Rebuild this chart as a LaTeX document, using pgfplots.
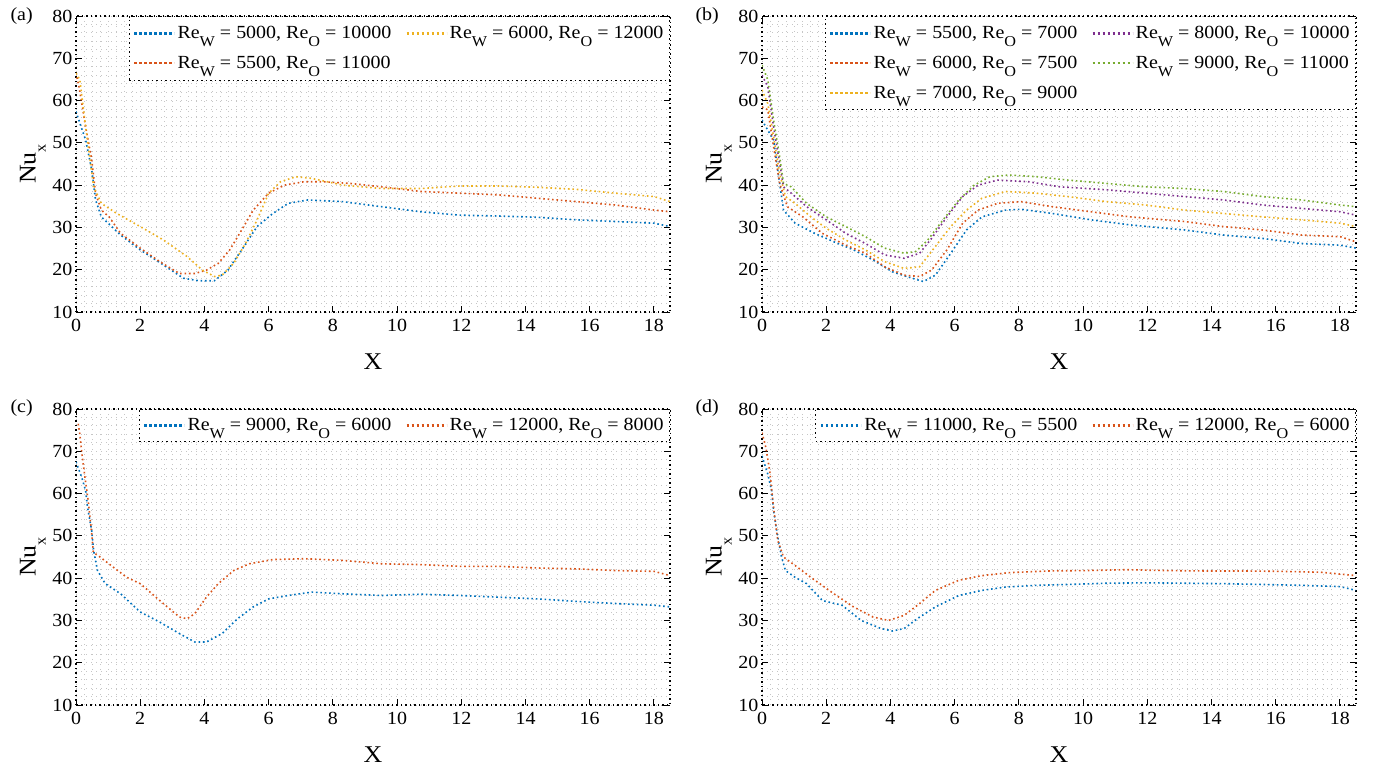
\documentclass[border=0pt]{standalone}
\usepackage{pgfplots}
\pgfplotsset{compat=1.18}
\usepackage{fontspec}
\setmainfont{Liberation Serif}[FakeStretch=1.08]
\definecolor{mblue}{rgb}{0,0.447,0.741}
\definecolor{morange}{rgb}{0.85,0.325,0.098}
\definecolor{myellow}{rgb}{0.929,0.694,0.125}
\definecolor{mpurple}{rgb}{0.494,0.184,0.556}
\definecolor{mgreen}{rgb}{0.466,0.674,0.188}
\newcommand{\mysub}[1]{\raisebox{-0.42em}{\fontsize{15}{15}\selectfont #1}}
\newcommand{\lgd}[2]{Re\mysub{W} = #1, Re\mysub{O} = #2}
\pgfplotsset{
 panel/.style={
  scale only axis, width=594pt, height=296pt,
  xmin=0,xmax=18.5,ymin=10,ymax=80,
  xtick={0,2,...,18}, ytick={10,20,...,80},
  minor x tick num=7, minor y tick num=4,
  grid=both,
  major grid style={draw=gray!45, line width=0.9pt, dash pattern=on 1pt off 4pt},
  minor grid style={draw=gray!45, line width=0.9pt, dash pattern=on 1pt off 4pt},
  axis line style={black, line width=1.2pt, dash pattern=on 1.5pt off 3pt},
  tick align=inside, major tick length=6pt, minor tick length=0pt,
  tick style={black, line width=1pt},
  ticklabel style={font=\fontsize{18.5}{21}\selectfont},
  xticklabel style={yshift=-4pt},
  /pgf/number format/assume math mode=true,
  xlabel={X}, ylabel={Nu\mysub{x}},
  label style={font=\fontsize{24}{27}\selectfont},
  xlabel style={yshift=-15pt},
  legend style={at={(1,1)}, anchor=north east, draw=black, line width=1pt,
    dash pattern=on 1.5pt off 3pt, fill=white,
    font=\fontsize{18.5}{21}\selectfont, inner xsep=4pt, inner ysep=8pt, row sep=12pt,
    /tikz/every even column/.append style={column sep=12pt}},
  legend cell align=left,
  legend image code/.code={\draw[##1, line width=2.4pt, dash pattern=on 2.4pt off 2.6pt] (0pt,0pt) -- (40pt,0pt);},
  every axis plot/.append style={line width=1.6pt, dash pattern=on 1.6pt off 2.8pt},
 }
}
\begin{document}
\begin{tikzpicture}
\useasboundingbox (0pt,0pt) rectangle (1375pt,-770pt);
% (a)
\begin{axis}[panel, at={(76pt,-312pt)}, anchor=south west, legend columns=2, transpose legend]
\addplot[color=mblue] coordinates {(0,57.4)(0.15,54)(0.3,50.7)(0.49,43.6)(0.61,36.5)(0.79,32.5)(1.0,31)(1.39,28.2)(2.0,24.7)(2.73,21.1)(3.34,18.0)(3.82,17.4)(4.31,17.4)(4.73,19.9)(5.16,24.7)(5.64,30.2)(6.13,33.3)(6.61,35.7)(7.22,36.5)(8.31,36.1)(9.52,34.9)(10.74,33.7)(11.95,32.9)(13.16,32.7)(14.37,32.4)(15.59,31.8)(16.8,31.4)(18.01,31.0)(18.5,30.2)};
\addlegendentry{\lgd{5000}{10000}}
\addplot[color=morange] coordinates {(0,66.5)(0.1,63)(0.3,53.8)(0.49,46)(0.61,38)(0.79,34.1)(1.03,32.5)(1.39,28.6)(2.0,25.1)(2.61,21.9)(3.22,19.1)(3.7,19.1)(4.06,19.9)(4.43,21.5)(4.79,24.7)(5.16,29.4)(5.52,34.1)(6.0,38.1)(6.49,40.0)(7.1,40.8)(7.7,40.8)(8.55,40.4)(9.52,39.6)(10.74,38.5)(11.95,38.1)(13.16,37.7)(14.37,36.9)(15.59,36.1)(16.8,35.3)(18.01,34.1)(18.5,33.7)};
\addlegendentry{\lgd{5500}{11000}}
\addplot[color=myellow] coordinates {(0,66.5)(0.12,64.9)(0.3,53.8)(0.55,39.6)(0.79,35.7)(1.27,33.3)(2.0,30.2)(2.73,27.0)(3.46,23.1)(3.94,19.9)(4.31,18.4)(4.55,18.7)(4.91,21.5)(5.28,26.2)(5.64,31.8)(6.0,38.1)(6.37,40.8)(6.85,42.0)(7.34,41.6)(8.31,40.0)(9.52,39.2)(10.74,39.2)(11.95,39.8)(13.16,39.8)(14.37,39.5)(15.59,39.0)(16.8,38.1)(18.01,37.3)(18.5,36.1)};
\addlegendentry{\lgd{6000}{12000}}
\end{axis}
% (b)
\begin{axis}[panel, at={(762pt,-312pt)}, anchor=south west, legend columns=3, transpose legend]
\addplot[color=mblue] coordinates {(0,55.4)(0.18,53.0)(0.36,50.7)(0.49,43.6)(0.67,34.1)(1.03,31.0)(1.64,28.6)(2.24,26.6)(2.85,24.7)(3.46,22.3)(4.06,19.5)(4.67,18.0)(5.03,17.2)(5.4,18.7)(5.88,23.9)(6.37,29.4)(6.85,32.5)(7.58,34.1)(8.07,34.3)(9.04,33.3)(10.25,31.8)(11.46,30.6)(13.16,29.4)(14.37,28.2)(15.59,27.4)(16.8,26.2)(18.01,25.8)(18.5,25.1)};
\addlegendentry{\lgd{5500}{7000}}
\addplot[color=morange] coordinates {(0,58.5)(0.18,57.8)(0.36,49.1)(0.55,40.4)(0.79,34.9)(1.27,32.5)(1.88,28.6)(2.61,25.8)(3.22,23.9)(3.82,20.7)(4.43,18.7)(4.91,18.4)(5.28,19.9)(5.76,24.7)(6.25,31.0)(6.73,34.1)(7.34,35.7)(8.07,36.1)(9.04,34.9)(10.25,33.7)(11.46,32.5)(13.16,31.4)(14.37,30.2)(15.59,29.4)(16.8,28.2)(18.01,27.8)(18.5,26.6)};
\addlegendentry{\lgd{6000}{7500}}
\addplot[color=myellow] coordinates {(0,62.5)(0.18,59.3)(0.36,51.5)(0.55,42.8)(0.73,37.3)(1.03,35.7)(1.52,32.5)(2.0,29.8)(2.61,27.0)(3.22,24.7)(3.82,21.9)(4.43,20.3)(4.91,20.7)(5.4,25.5)(5.88,30.2)(6.37,34.1)(6.85,36.9)(7.58,38.5)(8.55,38.1)(9.52,37.3)(10.74,36.1)(11.95,35.3)(13.16,34.1)(14.37,33.3)(15.59,32.5)(16.8,31.8)(18.01,31.0)(18.5,30.2)};
\addlegendentry{\lgd{7000}{9000}}
\addplot[color=mpurple] coordinates {(0,66)(0.18,63.3)(0.36,53.8)(0.55,45.2)(0.67,39.6)(0.91,38.1)(1.39,34.9)(2.0,31.8)(2.61,28.6)(3.22,26.2)(3.82,23.5)(4.43,22.7)(4.91,23.9)(5.28,27.4)(5.76,32.5)(6.25,37.3)(6.73,40.0)(7.34,41.2)(8.31,40.8)(9.28,39.6)(10.74,38.9)(11.95,38.1)(13.16,37.3)(14.37,36.5)(15.59,35.3)(16.8,34.5)(18.01,33.7)(18.5,32.9)};
\addlegendentry{\lgd{8000}{10000}}
\addplot[color=mgreen] coordinates {(0,68.4)(0.18,64.9)(0.36,55.4)(0.55,46.7)(0.67,40.4)(0.91,39.6)(1.39,35.7)(2.0,32.5)(2.61,30.2)(3.22,27.8)(3.82,25.1)(4.43,23.9)(4.79,24.3)(5.16,27.0)(5.64,31.8)(6.13,36.5)(6.61,40.0)(7.1,42.0)(7.7,42.4)(8.55,42.0)(9.52,41.2)(10.74,40.4)(11.95,39.6)(13.16,39.2)(14.37,38.5)(15.59,37.3)(16.8,36.5)(18.01,35.3)(18.5,34.9)};
\addlegendentry{\lgd{9000}{11000}}
\end{axis}
% (c)
\begin{axis}[panel, at={(76pt,-705pt)}, anchor=south west, legend columns=2, legend style={inner ysep=7pt}]
\addplot[color=mblue] coordinates {(0,67.5)(0.18,63.8)(0.3,60.7)(0.36,56.7)(0.49,51.2)(0.55,46.5)(0.67,41.8)(0.91,38.7)(1.39,36.3)(2.0,32.0)(2.61,29.6)(3.22,26.9)(3.7,24.9)(4.06,24.9)(4.55,26.9)(5.03,30.4)(5.52,33.2)(6.0,35.1)(6.61,35.9)(7.34,36.7)(8.31,36.3)(9.52,35.9)(10.74,36.2)(11.95,35.9)(13.16,35.5)(14.37,35.1)(15.59,34.5)(16.8,34.0)(18.01,33.6)(18.5,33.2)};
\addlegendentry{\lgd{9000}{6000}}
\addplot[color=morange] coordinates {(0.07,76.5)(0.12,74)(0.18,69.7)(0.28,63.8)(0.38,58.3)(0.49,50.5)(0.54,46.1)(0.75,45.0)(1.16,42.6)(1.58,40.2)(2.0,38.7)(2.61,34.7)(3.22,30.8)(3.46,30.4)(3.7,31.6)(4.06,35.5)(4.43,38.7)(4.91,41.8)(5.4,43.4)(6.13,44.4)(7.1,44.6)(8.31,44.2)(9.52,43.4)(10.74,43.2)(11.95,42.8)(13.16,42.8)(14.37,42.4)(15.59,42.2)(16.8,41.8)(18.01,41.6)(18.5,40.6)};
\addlegendentry{\lgd{12000}{8000}}
\end{axis}
% (d)
\begin{axis}[panel, at={(762pt,-705pt)}, anchor=south west, legend columns=2, legend style={inner ysep=7pt}]
\addplot[color=mblue] coordinates {(0,68.9)(0.18,64.6)(0.3,60.7)(0.36,56.0)(0.49,49.7)(0.61,45.0)(0.73,41.8)(1.03,40.2)(1.39,38.7)(1.88,34.7)(2.49,33.6)(3.09,30.0)(3.7,28.1)(4.06,27.5)(4.43,28.1)(4.91,30.8)(5.4,33.2)(6.13,35.9)(6.85,37.1)(7.58,37.9)(8.55,38.3)(9.52,38.5)(10.74,38.8)(11.95,38.9)(13.16,38.8)(14.37,38.7)(15.59,38.5)(16.8,38.3)(18.01,38.0)(18.5,37.1)};
\addlegendentry{\lgd{11000}{5500}}
\addplot[color=morange] coordinates {(0,74.4)(0.12,70.9)(0.24,65.4)(0.36,56.7)(0.49,48.9)(0.67,45.0)(1.03,43.0)(1.52,40.2)(2.24,36.3)(2.85,33.2)(3.46,30.8)(3.94,30.0)(4.43,31.2)(4.91,34.0)(5.4,37.1)(6.13,39.5)(6.85,40.6)(7.7,41.3)(8.92,41.7)(10.13,41.8)(11.34,42.0)(12.55,41.8)(13.77,41.7)(14.98,41.7)(16.19,41.6)(17.4,41.4)(18.5,40.6)};
\addlegendentry{\lgd{12000}{6000}}
\end{axis}
\node[anchor=west, font=\fontsize{18.5}{21}\selectfont] at (7pt,-16pt) {(a)};
\node[anchor=west, font=\fontsize{18.5}{21}\selectfont] at (692pt,-16pt) {(b)};
\node[anchor=west, font=\fontsize{18.5}{21}\selectfont] at (7pt,-408pt) {(c)};
\node[anchor=west, font=\fontsize{18.5}{21}\selectfont] at (692pt,-408pt) {(d)};
\end{tikzpicture}
\end{document}
